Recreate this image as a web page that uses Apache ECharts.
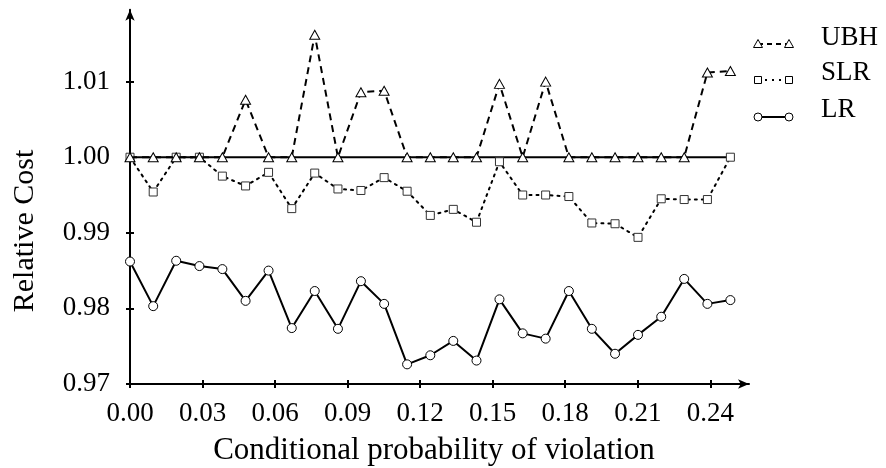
<!DOCTYPE html>
<html>
<head>
<meta charset="utf-8">
<script src="https://cdn.jsdelivr.net/npm/echarts@6/dist/echarts.min.js"></script>
<style>
html,body{margin:0;padding:0;background:#fff;}
#chart{width:886px;height:468px;}
</style>
</head>
<body>
<div id="chart"></div>
<script>
const xValues = [0.0000, 0.0096, 0.0191, 0.0287, 0.0382, 0.0478, 0.0573, 0.0669, 0.0764, 0.0860, 0.0955, 0.1051, 0.1146, 0.1242, 0.1337, 0.1433, 0.1528, 0.1624, 0.1719, 0.1815, 0.1910, 0.2006, 0.2101, 0.2197, 0.2292, 0.2388, 0.2483];
const ubh = [1.0000,1.0000,1.0000,1.0000,1.0000,1.0076,1.0000,1.0000,1.0162,1.0000,1.0086,1.0088,1.0000,1.0000,1.0000,1.0000,1.0097,1.0000,1.0100,1.0000,1.0000,1.0000,1.0000,1.0000,1.0000,1.0112,1.0114];
const slr = [1.0000,0.9954,1.0000,1.0000,0.9975,0.9962,0.9980,0.9932,0.9979,0.9958,0.9956,0.9973,0.9955,0.9923,0.9931,0.9914,0.9994,0.9950,0.9950,0.9948,0.9913,0.9912,0.9894,0.9945,0.9944,0.9944,1.0000];
const lr = [0.9862,0.9803,0.9863,0.9856,0.9852,0.9810,0.9850,0.9774,0.9823,0.9773,0.9836,0.9806,0.9726,0.9738,0.9757,0.9731,0.9812,0.9767,0.9760,0.9823,0.9773,0.9740,0.9765,0.9789,0.9839,0.9806,0.9811];
const reference = [1.0000,1.0000,1.0000,1.0000,1.0000,1.0000,1.0000,1.0000,1.0000,1.0000,1.0000,1.0000,1.0000,1.0000,1.0000,1.0000,1.0000,1.0000,1.0000,1.0000,1.0000,1.0000,1.0000,1.0000,1.0000,1.0000,1.0000];
const xTicks = [0.00, 0.03, 0.06, 0.09, 0.12, 0.15, 0.18, 0.21, 0.24];
const yTicks = [0.97, 0.98, 0.99, 1.00, 1.01];
const seriesNames = ['UBH', 'SLR', 'LR'];
const xTitle = 'Conditional probability of violation';
const yTitle = 'Relative Cost';

const FONT = '"Liberation Serif", "Times New Roman", serif';
const pairs = ys => xValues.map((x, i) => [x, ys[i]]);

const chart = echarts.init(document.getElementById('chart'), null, {renderer: 'canvas'});

const xBase = {
  type: 'value', min: 0, max: 0.256, position: 'bottom', gridIndex: 0,
  splitLine: {show: false}
};
const yBase = {
  type: 'value', min: 0.97, max: 1.0195, position: 'left', gridIndex: 0,
  splitLine: {show: false}
};

function legendItem(row, symbolType, dash, label) {
  const ty = [38, 73, 110][row];
  const sy = [44, 80, 117][row];
  const x1 = 758, x2 = 789;
  const items = [];
  items.push({type: 'line', shape: {x1: x1, y1: sy, x2: x2, y2: sy},
    style: {stroke: '#000', lineWidth: 2, lineDash: dash}, z: 10});
  [x1, x2].forEach(cx => {
    let el;
    if (symbolType === 'triangle') {
      el = {type: 'polygon', shape: {points: [[cx, sy - 4.5], [cx - 4.5, sy + 3.5], [cx + 4.5, sy + 3.5]]}};
    } else if (symbolType === 'rect') {
      el = {type: 'rect', shape: {x: cx - 3.5, y: sy - 3.5, width: 7, height: 7}};
    } else {
      el = {type: 'circle', shape: {cx: cx, cy: sy, r: 4}};
    }
    el.style = {fill: '#fff', stroke: '#000', lineWidth: 1};
    el.z = 11;
    items.push(el);
  });
  items.push({type: 'text', x: 821, y: ty,
    style: {text: label, font: '27px ' + FONT, fill: '#000', textVerticalAlign: 'middle', verticalAlign: 'middle'}, z: 10});
  return items;
}

const option = {
  backgroundColor: '#fff',
  animation: false,
  grid: {left: 130, right: 886 - 749, top: 9.8, bottom: 84, containLabel: false, outerBoundsMode: 'none'},
  xAxis: [
    Object.assign({}, xBase, {
      axisLine: {show: true, symbol: ['none', 'arrow'], symbolSize: [7, 11], lineStyle: {color: '#000', width: 2}},
      axisTick: {show: true, inside: true, length: 4, lineStyle: {color: '#000', width: 2}, customValues: xTicks},
      axisLabel: {show: true, margin: 16, fontFamily: FONT, fontSize: 27, color: '#000',
        customValues: xTicks, formatter: v => v.toFixed(2)}
    }),
    Object.assign({}, xBase, {
      axisLine: {show: false},
      axisTick: {show: true, inside: false, length: 4, lineStyle: {color: '#000', width: 2}, customValues: xTicks},
      axisLabel: {show: false}
    })
  ],
  yAxis: [
    Object.assign({}, yBase, {
      axisLine: {show: true, symbol: ['none', 'arrow'], symbolSize: [7, 11], lineStyle: {color: '#000', width: 2}},
      axisTick: {show: true, inside: true, length: 4, lineStyle: {color: '#000', width: 2}, customValues: yTicks},
      axisLabel: {show: true, margin: 20, fontFamily: FONT, fontSize: 27, color: '#000',
        customValues: yTicks, formatter: v => v.toFixed(2)}
    }),
    Object.assign({}, yBase, {
      axisLine: {show: false},
      axisTick: {show: true, inside: false, length: 4, lineStyle: {color: '#000', width: 2}, customValues: yTicks},
      axisLabel: {show: false}
    })
  ],
  series: [
    {
      name: 'reference', type: 'line', data: pairs(reference), xAxisIndex: 0, yAxisIndex: 0,
      showSymbol: false, symbol: 'none', lineStyle: {color: '#000', width: 2}, z: 1, silent: true
    },
    {
      name: seriesNames[2], type: 'line', data: pairs(lr), xAxisIndex: 0, yAxisIndex: 0,
      symbol: 'circle', symbolSize: 9,
      lineStyle: {color: '#000', width: 2},
      itemStyle: {color: '#fff', borderColor: '#000', borderWidth: 1}, z: 2
    },
    {
      name: seriesNames[1], type: 'line', data: pairs(slr), xAxisIndex: 0, yAxisIndex: 0,
      symbol: 'rect', symbolSize: 8,
      lineStyle: {color: '#000', width: 2, type: [2, 5], cap: 'round'},
      itemStyle: {color: '#fff', borderColor: '#333', borderWidth: 1}, z: 3
    },
    {
      name: seriesNames[0], type: 'line', data: pairs(ubh), xAxisIndex: 0, yAxisIndex: 0,
      symbol: 'triangle', symbolSize: [10, 9],
      lineStyle: {color: '#000', width: 2, type: [7, 5]},
      itemStyle: {color: '#fff', borderColor: '#000', borderWidth: 1}, z: 4
    }
  ],
  graphic: [].concat(
    legendItem(0, 'triangle', [5, 4], seriesNames[0]),
    legendItem(1, 'rect', [2, 5], seriesNames[1]),
    legendItem(2, 'circle', null, seriesNames[2]),
    [
      {type: 'text', x: 434, y: 451,
        style: {text: xTitle, font: '31px ' + FONT, fill: '#000', align: 'center', verticalAlign: 'middle'}, z: 10},
      {type: 'text', x: 25, y: 231, rotation: Math.PI / 2,
        style: {text: yTitle, font: '30px ' + FONT, fill: '#000', align: 'center', verticalAlign: 'middle'}, z: 10}
    ]
  )
};
chart.setOption(option);
</script>
</body>
</html>
